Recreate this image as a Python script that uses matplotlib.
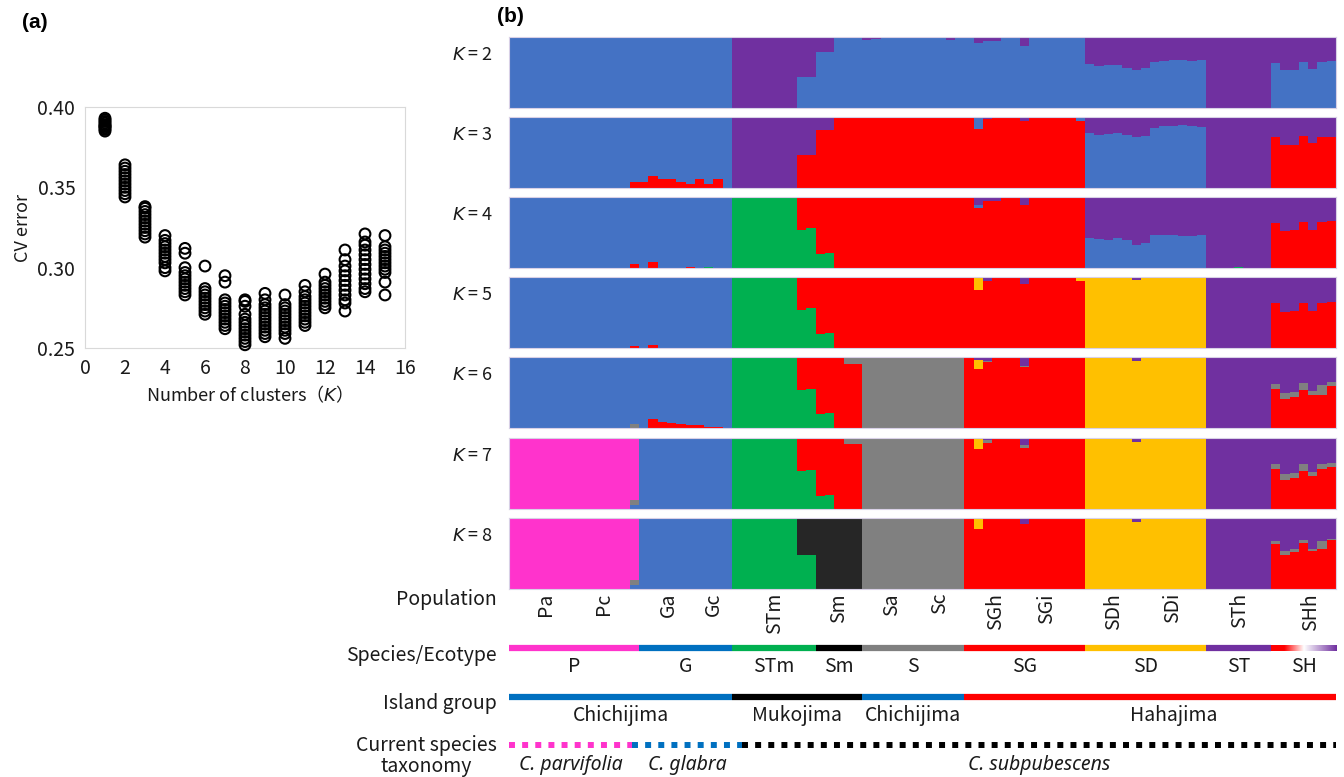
import numpy as np
import matplotlib.pyplot as plt
from matplotlib.colors import LinearSegmentedColormap

plt.rcParams['font.family'] = ['Noto Sans CJK JP', 'DejaVu Sans']
plt.rcParams['mathtext.fontset'] = 'dejavusans'

# ---------------- panel (a): CV error for the runs of each K ----------------
CV_K = list(range(1, 16))
CV_ERRORS = [
    [0.385, 0.386, 0.387, 0.388, 0.388, 0.389, 0.390, 0.391, 0.392, 0.393],
    [0.344, 0.346, 0.348, 0.350, 0.352, 0.354, 0.356, 0.358, 0.360, 0.362, 0.364],
    [0.319, 0.321, 0.323, 0.325, 0.327, 0.329, 0.331, 0.333, 0.335, 0.337, 0.338],
    [0.298, 0.300, 0.303, 0.305, 0.307, 0.309, 0.311, 0.313, 0.315, 0.317, 0.320],
    [0.283, 0.285, 0.287, 0.289, 0.291, 0.293, 0.295, 0.297, 0.300, 0.309, 0.312],
    [0.271, 0.273, 0.275, 0.277, 0.279, 0.281, 0.283, 0.285, 0.287, 0.301],
    [0.262, 0.264, 0.266, 0.268, 0.270, 0.272, 0.274, 0.276, 0.278, 0.280, 0.291, 0.295],
    [0.252, 0.254, 0.256, 0.258, 0.260, 0.262, 0.264, 0.266, 0.268, 0.271, 0.276, 0.279, 0.280],
    [0.257, 0.259, 0.261, 0.263, 0.265, 0.267, 0.269, 0.271, 0.273, 0.275, 0.277, 0.280, 0.284],
    [0.256, 0.259, 0.261, 0.263, 0.265, 0.267, 0.269, 0.271, 0.273, 0.275, 0.277, 0.283],
    [0.264, 0.266, 0.268, 0.270, 0.272, 0.274, 0.276, 0.278, 0.280, 0.282, 0.285, 0.289],
    [0.275, 0.277, 0.279, 0.281, 0.283, 0.285, 0.287, 0.289, 0.291, 0.296],
    [0.273, 0.278, 0.280, 0.283, 0.286, 0.289, 0.292, 0.295, 0.298, 0.301, 0.305, 0.311],
    [0.285, 0.287, 0.290, 0.293, 0.296, 0.299, 0.302, 0.305, 0.308, 0.311, 0.314, 0.316, 0.321],
    [0.283, 0.291, 0.297, 0.299, 0.301, 0.303, 0.305, 0.307, 0.309, 0.311, 0.313, 0.320],
]

# ---------------- panel (b): admixture proportions ----------------
# populations in plotting order: P, G, STm, Sm, S, SG, SD, ST, SH
POP_SIZES = [14, 10, 7, 7, 11, 13, 13, 7, 7]
POP_LABELS = ['Pa', 'Pc', 'Ga', 'Gc', 'STm', 'Sm', 'Sa', 'Sc',
              'SGh', 'SGi', 'SDh', 'SDi', 'STh', 'SHh']
POP_LABEL_POS = [3.4, 9.7, 16.7, 21.5, 28.1, 35.0, 40.7, 45.8,
                 51.9, 57.3, 64.6, 70.9, 78.1, 85.8]

# dominant cluster of each population; the rest is given as (cluster, first individual, values)
K2_MAIN = ['blue', 'blue', 'purple', 'blue', 'blue', 'blue', 'blue', 'purple', 'blue']
K2_MIX = [
    ('purple', 31, [0.56, 0.56, 0.21, 0.21, 0.0, 0.0, 0.02, 0.04, 0.03]),
    ('purple', 42, [0.01]),
    ('purple', 47, [0.04]),
    ('purple', 50, [0.08, 0.06, 0.05, 0.0, 0.0, 0.13]),
    ('purple', 62, [0.38, 0.41, 0.40, 0.40, 0.43, 0.46, 0.43, 0.35, 0.34, 0.33, 0.32, 0.34, 0.32]),
    ('purple', 82, [0.36, 0.47, 0.46, 0.35, 0.45, 0.35, 0.34]),
]
K3_MAIN = ['blue', 'blue', 'purple', 'red', 'red', 'red', 'blue', 'purple', 'red']
K3_MIX = [
    ('red', 13, [0.08, 0.09, 0.17, 0.13, 0.12, 0.08, 0.05, 0.13, 0.06, 0.13]),
    ('purple', 31, [0.54, 0.54, 0.18, 0.18]),
    ('blue', 50, [0.15]),
    ('purple', 50, [0.02, 0.03, 0.0, 0.0, 0.0, 0.06]),
    ('blue', 61, [0.06]),
    ('purple', 62, [0.23, 0.26, 0.24, 0.23, 0.26, 0.28, 0.27, 0.16, 0.13, 0.12, 0.11, 0.13, 0.14]),
    ('purple', 82, [0.28, 0.40, 0.39, 0.27, 0.37, 0.28, 0.28]),
]
K4_MAIN = ['blue', 'blue', 'green', 'red', 'red', 'red', 'blue', 'purple', 'red']
K4_MIX = [
    ('red', 13, [0.05, 0.0, 0.09]),
    ('red', 19, [0.01]),
    ('green', 21, [0.01]),
    ('green', 31, [0.54, 0.56, 0.20, 0.21]),
    ('blue', 50, [0.05]),
    ('purple', 50, [0.11, 0.06, 0.05, 0.0, 0.0, 0.11]),
    ('purple', 62, [0.58, 0.59, 0.61, 0.58, 0.61, 0.67, 0.65, 0.54, 0.54, 0.53, 0.55, 0.55, 0.54]),
    ('green', 78, [0.02]),
    ('purple', 82, [0.37, 0.48, 0.46, 0.35, 0.46, 0.35, 0.34]),
]
K5_MAIN = ['blue', 'blue', 'green', 'red', 'red', 'red', 'yellow', 'purple', 'red']
K5_MIX = [
    ('red', 13, [0.03, 0.0, 0.04]),
    ('green', 31, [0.53, 0.57, 0.20, 0.21]),
    ('yellow', 49, [0.01, 0.17, 0.01]),
    ('purple', 50, [0.01, 0.05, 0.02, 0.0, 0.0, 0.10]),
    ('yellow', 61, [0.05]),
    ('purple', 67, [0.04]),
    ('purple', 82, [0.37, 0.49, 0.48, 0.36, 0.48, 0.37, 0.35]),
]
K6_MAIN = ['blue', 'blue', 'green', 'red', 'grey', 'red', 'yellow', 'purple', 'red']
K6_MIX = [
    ('grey', 13, [0.06]),
    ('red', 15, [0.13, 0.09, 0.07, 0.06, 0.04, 0.04, 0.01, 0.01]),
    ('green', 31, [0.53, 0.55, 0.20, 0.21]),
    ('grey', 36, [0.10, 0.10]),
    ('yellow', 50, [0.13]),
    ('purple', 50, [0.04, 0.06, 0.02, 0.0, 0.0, 0.12]),
    ('grey', 51, [0.01, 0.0, 0.0, 0.0, 0.02]),
    ('purple', 67, [0.05]),
    ('grey', 82, [0.07, 0.08, 0.08, 0.10, 0.06, 0.14, 0.06]),
    ('purple', 82, [0.38, 0.51, 0.49, 0.37, 0.48, 0.39, 0.35]),
]
K7_MAIN = ['pink', 'blue', 'green', 'red', 'grey', 'red', 'yellow', 'purple', 'red']
K7_MIX = [
    ('blue', 13, [0.06]),
    ('grey', 13, [0.07]),
    ('green', 31, [0.53, 0.55, 0.19, 0.20]),
    ('grey', 36, [0.09, 0.09]),
    ('yellow', 50, [0.14]),
    ('purple', 50, [0.015, 0.03, 0.0, 0.0, 0.0, 0.10]),
    ('grey', 51, [0.04, 0.0, 0.0, 0.0, 0.04]),
    ('purple', 67, [0.05]),
    ('grey', 82, [0.07, 0.08, 0.07, 0.09, 0.06, 0.07, 0.06]),
    ('purple', 82, [0.36, 0.51, 0.49, 0.37, 0.48, 0.36, 0.35]),
]
K8_MAIN = ['pink', 'blue', 'green', 'black', 'grey', 'red', 'yellow', 'purple', 'red']
K8_MIX = [
    ('blue', 13, [0.06]),
    ('grey', 13, [0.07]),
    ('green', 31, [0.48, 0.48]),
    ('yellow', 50, [0.14]),
    ('purple', 50, [0.015, 0.02, 0.0, 0.0, 0.0, 0.08]),
    ('purple', 67, [0.06]),
    ('grey', 82, [0.04, 0.05, 0.05, 0.04, 0.03, 0.11, 0.02]),
    ('purple', 82, [0.33, 0.47, 0.43, 0.31, 0.44, 0.33, 0.29]),
]

SPECIES_SIZES = [14, 10, 9, 5, 11, 13, 13, 7, 7]
SPECIES_LABELS = ['P', 'G', 'STm', 'Sm', 'S', 'SG', 'SD', 'ST', 'SH']
ISLAND_SIZES = [24, 14, 11, 40]
ISLAND_LABELS = ['Chichijima', 'Mukojima', 'Chichijima', 'Hahajima']
TAXON_SIZES = [13.2, 11.9, 63.9]
TAXON_LABELS = ['C. parvifolia', 'C. glabra', 'C. subpubescens']

# ---------------- styling ----------------
COLORS = {'blue': '#4472C4', 'purple': '#7030A0', 'red': '#FF0000', 'green': '#00B050',
          'yellow': '#FFC000', 'grey': '#808080', 'pink': '#FF33CC', 'black': '#262626'}
STACK_ORDER = {
    2: ['blue', 'purple'],
    3: ['red', 'blue', 'purple'],
    4: ['green', 'red', 'blue', 'purple'],
    5: ['green', 'red', 'yellow', 'blue', 'purple'],
    6: ['green', 'red', 'grey', 'yellow', 'blue', 'purple'],
    7: ['blue', 'green', 'red', 'yellow', 'grey', 'pink', 'purple'],
    8: ['blue', 'green', 'black', 'red', 'yellow', 'grey', 'pink', 'purple'],
}
SPECIES_COLORS = ['#FF33CC', '#0070C0', '#00B050', '#000000', '#808080',
                  '#FF0000', '#FFC000', '#7030A0', None]
ISLAND_COLORS = ['#0070C0', '#000000', '#0070C0', '#FF0000']
TAXON_COLORS = ['#FF33CC', '#0070C0', '#000000']
TEXT = '#1a1a1a'
FS = 14

W, H = 1344, 777
N = sum(POP_SIZES)


def fx(px):
    return px / W


def fy(py):
    return 1 - py / H


def build_q(main, mix):
    q = {c: np.zeros(N) for c in COLORS}
    for c, i0, vals in mix:
        q[c][i0:i0 + len(vals)] += np.array(vals)
    owner = np.repeat(main, POP_SIZES)
    total = sum(q.values())
    for i in range(N):
        q[owner[i]][i] = 1 - total[i]
    return q


fig = plt.figure(figsize=(W / 100, H / 100), dpi=100)

# ---- panel (a)
ax = fig.add_axes([fx(85), fy(348), fx(320), 241 / H])
for k, errs in zip(CV_K, CV_ERRORS):
    ax.scatter([k] * len(errs), errs, s=60, facecolors='none', edgecolors='black',
               linewidths=1.5, clip_on=False, zorder=3)
ax.set_xlim(0, 16)
ax.set_ylim(0.25, 0.40)
ax.set_xticks(range(0, 17, 2))
ax.set_yticks([0.25, 0.30, 0.35, 0.40])
ax.set_yticklabels(['0.25', '0.30', '0.35', '0.40'])
ax.tick_params(length=0, labelsize=14, colors=TEXT, pad=7)
for sp in ax.spines.values():
    sp.set_color('#D9D9D9')
ax.set_ylabel('CV error', fontsize=13, color=TEXT, labelpad=4)
ax.set_xlabel('Number of clusters（$K$）', fontsize=13, color=TEXT, labelpad=4)

fig.text(fx(22), fy(22), '(a)', fontsize=15, fontweight='bold',
         family='Liberation Sans', va='center', ha='left')
fig.text(fx(497), fy(17), '(b)', fontsize=15, fontweight='bold',
         family='Liberation Sans', va='center', ha='left')

# ---- panel (b)
rows = [(2, K2_MAIN, K2_MIX), (3, K3_MAIN, K3_MIX), (4, K4_MAIN, K4_MIX),
        (5, K5_MAIN, K5_MIX), (6, K6_MAIN, K6_MIX), (7, K7_MAIN, K7_MIX),
        (8, K8_MAIN, K8_MIX)]
row_tops = [37, 117, 197, 277, 357, 438, 518]
x = np.arange(N)
for (k, main, mix), top in zip(rows, row_tops):
    q = build_q(main, mix)
    axk = fig.add_axes([fx(509), fy(top + 71), fx(827), 71 / H])
    bottom = np.zeros(N)
    for c in STACK_ORDER[k]:
        axk.bar(x, q[c], bottom=bottom, width=1.0, color=COLORS[c], linewidth=0)
        bottom += q[c]
    axk.set_xlim(-0.5, N - 0.5)
    axk.set_ylim(0, 1)
    axk.set_xticks([])
    axk.set_yticks([])
    for sp in axk.spines.values():
        sp.set_color('#D8D0E6')
        sp.set_linewidth(0.8)
    fig.text(fx(493), fy(top + 18), f'$K$ = {k}', fontsize=13, color=TEXT,
             ha='right', va='center')

# ---- annotation rows below the bars
ann = fig.add_axes([fx(509), 0, fx(827), 188 / H])
ann.set_xlim(-0.5, N - 0.5)
ann.set_ylim(777, 589)
ann.axis('off')

for lab, pos in zip(POP_LABELS, POP_LABEL_POS):
    ann.text(pos, 593, lab, rotation=90, ha='center', va='top', fontsize=FS, color=TEXT)

edges = np.concatenate([[0], np.cumsum(SPECIES_SIZES)]) - 0.5
for i, lab in enumerate(SPECIES_LABELS):
    a, b = edges[i], edges[i + 1]
    if SPECIES_COLORS[i] is None:
        cmap = LinearSegmentedColormap.from_list(
            'sh', [(0, '#FF0000'), (0.2, '#FF0000'), (0.5, '#FFFFFF'), (1, '#7030A0')])
        ann.imshow(np.linspace(0, 1, 200)[None, :], cmap=cmap, aspect='auto',
                   extent=[a, b, 651, 645], interpolation='bilinear')
    else:
        ann.plot([a, b], [648, 648], color=SPECIES_COLORS[i], lw=4.5, solid_capstyle='butt')
    ann.text((a + b) / 2, 666, lab, ha='center', va='center', fontsize=FS, color=TEXT)

edges = np.concatenate([[0], np.cumsum(ISLAND_SIZES)]) - 0.5
for i, lab in enumerate(ISLAND_LABELS):
    a, b = edges[i], edges[i + 1]
    ann.plot([a, b], [697, 697], color=ISLAND_COLORS[i], lw=4.5, solid_capstyle='butt')
    xt = (a + b) / 2 if lab != 'Hahajima' else (a + b) / 2 + 2.5
    ann.text(xt, 716, lab, ha='center', va='center', fontsize=FS, color=TEXT)

edges = np.concatenate([[0], np.cumsum(TAXON_SIZES)]) - 0.5
for i, lab in enumerate(TAXON_LABELS):
    a, b = edges[i], edges[i + 1]
    ann.plot([a, b], [745, 745], color=TAXON_COLORS[i], lw=4.3, dashes=(1, 1.2),
             dash_capstyle='butt')
    ann.text((a + b) / 2, 765, lab, ha='center', va='center', fontsize=FS,
             color=TEXT, family='Noto Sans', style='italic')
ann.set_xlim(-0.5, N - 0.5)
ann.set_ylim(777, 589)

for txt, py in [('Population', 600), ('Species/Ecotype', 655), ('Island group', 703)]:
    fig.text(fx(497), fy(py), txt, ha='right', va='center', fontsize=FS, color=TEXT)
fig.text(fx(497), fy(756), 'Current species\ntaxonomy', ha='right', va='center',
         multialignment='center', fontsize=FS, color=TEXT, linespacing=1.0)

fig.savefig('out.png', dpi=100)
